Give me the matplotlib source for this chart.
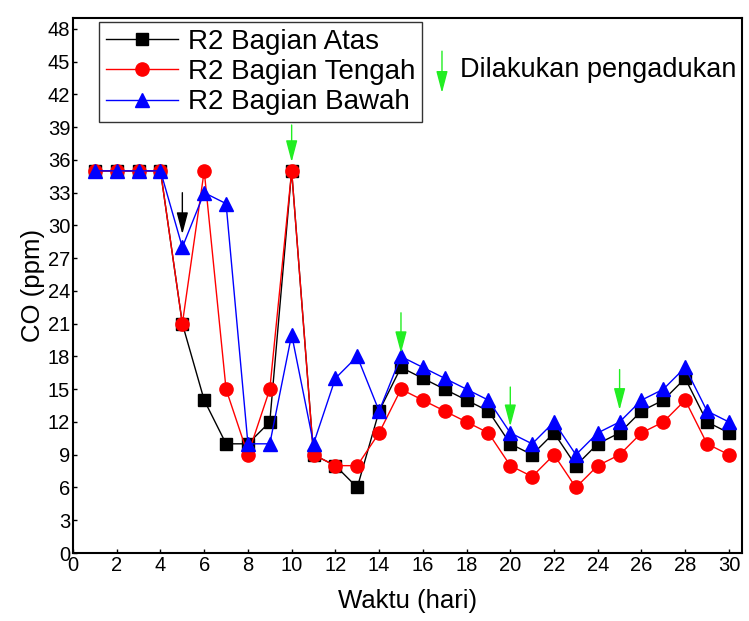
import matplotlib
matplotlib.use("Agg")
import matplotlib.pyplot as plt

days = list(range(1, 31))
atas = [35, 35, 35, 35, 21, 14, 10, 10, 12, 35, 9, 8, 6, 13, 17, 16, 15, 14, 13, 10,
        9, 11, 8, 10, 11, 13, 14, 16, 12, 11]
tengah = [35, 35, 35, 35, 21, 35, 15, 9, 15, 35, 9, 8, 8, 11, 15, 14, 13, 12, 11, 8,
          7, 9, 6, 8, 9, 11, 12, 14, 10, 9]
bawah = [35, 35, 35, 35, 28, 33, 32, 10, 10, 20, 10, 16, 18, 13, 18, 17, 16, 15, 14, 11,
         10, 12, 9, 11, 12, 14, 15, 17, 13, 12]
labels = ["R2 Bagian Atas", "R2 Bagian Tengah", "R2 Bagian Bawah"]
xticks = list(range(0, 31, 2))
yticks = list(range(0, 49, 3))
# arrows: (x, y_start, y_end)
black_arrow = (5, 33, 29.2)
green_arrows = [(10, 39.2, 35.8), (15, 22, 18.3), (20, 15.2, 11.6), (25, 16.8, 13.1)]

plt.rcParams['font.family'] = ['Liberation Sans', 'DejaVu Sans']

fig = plt.figure(figsize=(7.49, 6.21), dpi=100)
ax = fig.add_axes([0.0975, 0.1095, 0.8932, 0.8615])

ax.plot(days, atas, color='black', lw=1, marker='s', ms=8.5, label=labels[0], zorder=3)
ax.plot(days, tengah, color='red', lw=1, marker='o', ms=9.5, label=labels[1], zorder=4)
ax.plot(days, bawah, color='blue', lw=1, marker='^', ms=10.5, label=labels[2], zorder=5)

arrow_kw = dict(arrowstyle='-|>,head_length=0.95,head_width=0.25', lw=1, mutation_scale=14,
                shrinkA=0, shrinkB=0)
ax.annotate('', xy=(black_arrow[0], black_arrow[2]), xytext=(black_arrow[0], black_arrow[1]),
            arrowprops=dict(color='black', **arrow_kw), zorder=6)
for x, y0, y1 in green_arrows:
    ax.annotate('', xy=(x, y1), xytext=(x, y0),
                arrowprops=dict(color='#22ee22', **arrow_kw), zorder=6)

# legend arrow and text
ax.annotate('', xy=(0.5515, 0.860), xytext=(0.5515, 0.938), xycoords='axes fraction',
            arrowprops=dict(color='#22ee22', **arrow_kw))
ax.text(0.578, 0.903, 'Dilakukan pengadukan', transform=ax.transAxes, fontsize=19.5,
        va='center', ha='left')

ax.set_xlim(0, 30.6)
ax.set_ylim(0, 49)
ax.set_xticks(xticks)
ax.set_yticks(yticks)
ax.tick_params(direction='in', length=3, width=1, pad=2, labelsize=14.5)
for s in ax.spines.values():
    s.set_linewidth(1.5)

ax.set_xlabel('Waktu (hari)', fontsize=18.5, labelpad=10)
ax.set_ylabel('CO (ppm)', fontsize=18.5, labelpad=2)

leg = ax.legend(loc='upper left', bbox_to_anchor=(0.039, 0.9925), fontsize=20,
                frameon=True, fancybox=False, edgecolor='black', handlelength=2.6,
                borderpad=0.25, labelspacing=0.15, handletextpad=0.35, borderaxespad=0)
leg.get_frame().set_linewidth(1)

fig.savefig('out.png', dpi=100)
